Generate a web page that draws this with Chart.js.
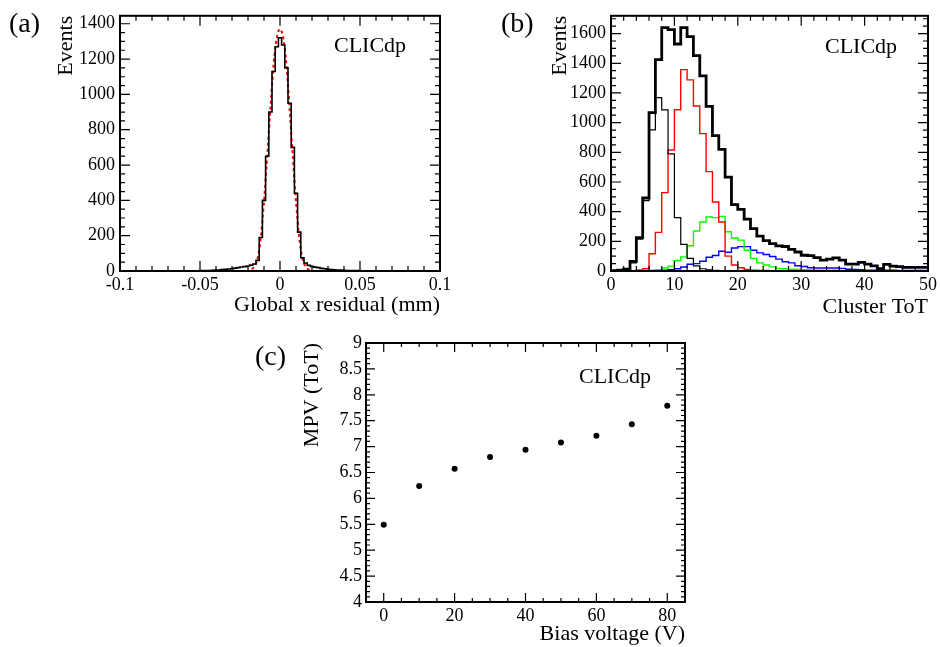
<!DOCTYPE html>
<html>
<head>
<title>CLICdp residual, cluster ToT and MPV</title>
<script src="https://cdn.jsdelivr.net/npm/chart.js"></script>
<style>
  body { margin: 0; background: #fff; }
  #page { position: relative; width: 940px; height: 647px; overflow: hidden; }
  canvas { position: absolute; }
</style>
</head>
<body>
<div id="page">
  <canvas id="chartA" width="460" height="320" style="left:0;top:0"></canvas>
  <canvas id="chartB" width="470" height="320" style="left:470px;top:0"></canvas>
  <canvas id="chartC" width="480" height="327" style="left:230px;top:320px"></canvas>
</div>
<script>
// (a) global x residual, bins 0.002 mm wide (centres)
const residCentres = [-0.05, -0.048, -0.046, -0.044, -0.042, -0.04, -0.038, -0.036, -0.034, -0.032,
  -0.03, -0.028, -0.026, -0.024, -0.022, -0.02, -0.018, -0.016, -0.014, -0.012,
  -0.01, -0.008, -0.006, -0.004, -0.002, 0, 0.002, 0.004, 0.006, 0.008,
  0.01, 0.012, 0.014, 0.016, 0.018, 0.02, 0.022, 0.024, 0.026, 0.028,
  0.03, 0.032, 0.034, 0.036, 0.038, 0.04, 0.042, 0.044, 0.046, 0.048, 0.05];
const residCounts = [2, 2, 3, 3, 4, 5, 6, 8, 10, 11,
  13, 16, 19, 23, 25, 28, 33, 40, 60, 190,
  400, 650, 900, 1130, 1270, 1320, 1280, 1150, 950, 700,
  440, 220, 75, 45, 32, 26, 22, 19, 15, 13,
  10, 8, 7, 6, 5, 4, 3, 3, 2, 2, 2];
const fitX = [-0.1, -0.03, -0.022, -0.02, -0.018, -0.016, -0.014, -0.012, -0.01, -0.008, -0.006, -0.004, -0.002, 0,
  0.002, 0.004, 0.006, 0.008, 0.01, 0.012, 0.014, 0.016, 0.018, 0.02, 0.022, 0.03, 0.1];
const fitY = [0, 0, 0, 2, 8, 25, 70, 190, 395, 650, 920, 1170, 1320, 1370,
  1320, 1170, 920, 650, 395, 190, 70, 25, 8, 2, 0, 0, 0];

// (b) cluster ToT, unit bins starting at these low edges
const totLow = [0, 1, 2, 3, 4, 5, 6, 7, 8, 9, 10, 11, 12, 13, 14, 15, 16, 17, 18, 19,
  20, 21, 22, 23, 24, 25, 26, 27, 28, 29, 30, 31, 32, 33, 34, 35, 36, 37, 38, 39,
  40, 41, 42, 43, 44, 45, 46, 47, 48, 49];
const totAll = [3, 5, 12, 65, 225, 492, 1068, 1425, 1640, 1627, 1530, 1640, 1580, 1452, 1315, 1110, 913, 820, 633, 447,
  415, 350, 285, 235, 205, 185, 170, 165, 146, 128, 106, 104, 90, 73, 80, 88, 73, 46, 46, 58,
  46, 35, 15, 44, 33, 30, 24, 24, 24, 24];
const totSize1 = [2, 4, 10, 55, 215, 474, 951, 1168, 1086, 790, 360, 180, 85, 35, 15, 8, 5, 3, 2, 1,
  1, 1, 0, 0, 0, 0, 0, 0, 0, 0, 0, 0, 0, 0, 0, 0, 0, 0, 0, 0,
  0, 0, 0, 0, 0, 0, 0, 0, 0, 0];
const totSize2 = [0, 0, 1, 2, 5, 16, 116, 260, 528, 816, 1087, 1357, 1288, 1112, 926, 670, 465, 330, 100, 40,
  22, 10, 6, 4, 3, 2, 1, 1, 0, 0, 0, 0, 0, 0, 0, 0, 0, 0, 0, 0,
  0, 0, 0, 0, 0, 0, 0, 0, 0, 0];
const totSize3 = [0, 0, 0, 0, 0, 1, 2, 3, 20, 33, 71, 95, 170, 270, 330, 364, 360, 368, 265, 222,
  208, 140, 85, 55, 40, 28, 18, 15, 12, 10, 9, 7, 6, 6, 5, 5, 4, 2, 2, 2,
  1, 1, 1, 1, 1, 1, 1, 1, 1, 1];
const totSize4 = [2, 2, 2, 2, 3, 3, 4, 5, 6, 8, 15, 27, 45, 50, 66, 93, 104, 133, 126, 155,
  164, 164, 140, 122, 111, 98, 80, 62, 55, 35, 30, 22, 20, 20, 20, 20, 18, 12, 10, 8,
  6, 6, 5, 5, 5, 4, 4, 4, 4, 4];

// (c) MPV vs bias voltage
const biasV = [0, 10, 20, 30, 40, 50, 60, 70, 80];
const mpv = [5.49, 6.24, 6.57, 6.80, 6.94, 7.08, 7.21, 7.43, 7.79];

const FONT = "'Liberation Serif', 'Times New Roman', serif";

function histPoints(lows, width, counts) {
  const pts = lows.map((lo, i) => ({x: lo, y: counts[i]}));
  pts.push({x: lows[lows.length - 1] + width, y: counts[counts.length - 1]});
  return pts;
}

// ROOT-like frame: inward major/minor ticks on all four sides, plus labels
const rootFrame = {
  id: 'rootFrame',
  afterDatasetsDraw(chart, args, o) {
    const {ctx, chartArea: a, scales: {x, y}} = chart;
    ctx.save();
    ctx.strokeStyle = '#000';
    const minors = (s, step) => {
      const out = [];
      for (let k = Math.ceil(s.min / step - 1e-9); k * step <= s.max + 1e-9; k++) out.push(k * step);
      return out;
    };
    const xTick = (v, len) => {
      const p = x.getPixelForValue(v);
      ctx.moveTo(p, a.bottom); ctx.lineTo(p, a.bottom - len);
      ctx.moveTo(p, a.top); ctx.lineTo(p, a.top + len);
    };
    const yTick = (v, len) => {
      const p = y.getPixelForValue(v);
      ctx.moveTo(a.left, p); ctx.lineTo(a.left + len, p);
      ctx.moveTo(a.right, p); ctx.lineTo(a.right - len, p);
    };
    ctx.lineWidth = 1.2;
    ctx.beginPath();
    minors(x, o.xMinor).forEach(v => xTick(v, o.minorLen));
    minors(y, o.yMinor).forEach(v => yTick(v, o.minorLen));
    x.ticks.forEach(t => xTick(t.value, o.majorLen));
    y.ticks.forEach(t => yTick(t.value, o.majorLen));
    ctx.stroke();
    ctx.lineWidth = 2;
    ctx.strokeRect(a.left, a.top, a.right - a.left, a.bottom - a.top);
    ctx.fillStyle = '#000';
    ctx.textBaseline = 'alphabetic';
    ctx.textAlign = 'left';
    (o.texts || []).forEach(t => {
      ctx.font = t.size + 'px ' + FONT;
      ctx.fillText(t.text, t.x, t.y);
    });
    ctx.restore();
  }
};

function axis(cfg) {
  return {
    type: 'linear',
    min: cfg.min, max: cfg.max,
    grid: {display: false, drawTicks: false},
    border: {display: false},
    afterBuildTicks: s => { s.ticks = cfg.ticks.map(v => ({value: v})); },
    afterFit: s => { if (cfg.width !== undefined) s.width = cfg.width; if (cfg.height !== undefined) s.height = cfg.height; },
    ticks: {
      autoSkip: false, maxRotation: 0, color: '#000', padding: cfg.pad,
      font: {family: FONT, size: 18},
      callback: v => String(v)
    },
    title: {
      display: true, text: cfg.title, align: 'end', color: '#000',
      font: {family: FONT, size: 22},
      padding: cfg.titlePad
    }
  };
}

const common = {
  responsive: false,
  animation: false,
  plugins: {legend: {display: false}, tooltip: {enabled: false}},
  elements: {point: {radius: 0}}
};

// (a)
new Chart(document.getElementById('chartA'), {
  type: 'line',
  data: {
    datasets: [{
      data: histPoints(residCentres.map(c => c - 0.001), 0.002, residCounts),
      stepped: 'before', borderColor: '#000', borderWidth: 1.6, fill: false
    }, {
      data: fitX.map((v, i) => ({x: v, y: fitY[i]})),
      borderColor: '#ff0000', borderWidth: 2, borderDash: [3, 3],
      cubicInterpolationMode: 'monotone', fill: false
    }]
  },
  options: {
    ...common,
    layout: {padding: {top: 12, right: 20, left: 0, bottom: 0}},
    scales: {
      x: axis({min: -0.1, max: 0.1, ticks: [-0.1, -0.05, 0, 0.05, 0.1], height: 49, pad: 3,
        title: 'Global x residual (mm)', titlePad: {top: 0, bottom: 2}}),
      y: axis({min: 0, max: 1445, ticks: [0, 200, 400, 600, 800, 1000, 1200, 1400], width: 120, pad: 5,
        title: 'Events', titlePad: {top: 53, bottom: 0}})
    },
    plugins: {
      ...common.plugins,
      rootFrame: {xMinor: 0.01, yMinor: 50, majorLen: 10, minorLen: 5,
        texts: [{text: '(a)', x: 9, y: 32, size: 28}, {text: 'CLICdp', x: 334, y: 52, size: 22}]}
    }
  },
  plugins: [rootFrame]
});

// (b)
new Chart(document.getElementById('chartB'), {
  type: 'line',
  data: {
    datasets: [
      {data: histPoints(totLow, 1, totAll), stepped: 'before', borderColor: '#000', borderWidth: 2.8, fill: false},
      {data: histPoints(totLow, 1, totSize1), stepped: 'before', borderColor: '#000', borderWidth: 1.2, fill: false},
      {data: histPoints(totLow, 1, totSize2), stepped: 'before', borderColor: '#ff0000', borderWidth: 1.4, fill: false},
      {data: histPoints(totLow, 1, totSize3), stepped: 'before', borderColor: '#00ff00', borderWidth: 1.4, fill: false},
      {data: histPoints(totLow, 1, totSize4), stepped: 'before', borderColor: '#0000ff', borderWidth: 1.4, fill: false}
    ]
  },
  options: {
    ...common,
    layout: {padding: {top: 12, right: 9, left: 0, bottom: 0}},
    scales: {
      x: axis({min: 0, max: 50, ticks: [0, 10, 20, 30, 40, 50], height: 49, pad: 3,
        title: 'Cluster ToT', titlePad: {top: 0, bottom: 0}}),
      y: axis({min: 0, max: 1720, ticks: [0, 200, 400, 600, 800, 1000, 1200, 1400, 1600], width: 141, pad: 5,
        title: 'Events', titlePad: {top: 77, bottom: 0}})
    },
    plugins: {
      ...common.plugins,
      rootFrame: {xMinor: 2, yMinor: 50, majorLen: 10, minorLen: 5,
        texts: [{text: '(b)', x: 31, y: 32, size: 28}, {text: 'CLICdp', x: 355, y: 53, size: 22}]}
    }
  },
  plugins: [rootFrame]
});

// (c)
new Chart(document.getElementById('chartC'), {
  type: 'scatter',
  data: {
    datasets: [{
      data: biasV.map((v, i) => ({x: v, y: mpv[i]})),
      pointRadius: 3, pointBackgroundColor: '#000', pointBorderColor: '#000', pointBorderWidth: 0
    }]
  },
  options: {
    ...common,
    elements: {point: {radius: 3}},
    layout: {padding: {top: 23, right: 25, left: 0, bottom: 0}},
    scales: {
      x: axis({min: -5, max: 85, ticks: [0, 20, 40, 60, 80], height: 45, pad: 3,
        title: 'Bias voltage (V)', titlePad: {top: 0, bottom: 0}}),
      y: axis({min: 4, max: 9, ticks: [4, 4.5, 5, 5.5, 6, 6.5, 7, 7.5, 8, 8.5, 9], width: 136, pad: 4,
        title: 'MPV (ToT)', titlePad: {top: 69, bottom: 0}})
    },
    plugins: {
      ...common.plugins,
      rootFrame: {xMinor: 5, yMinor: 0.1, majorLen: 9, minorLen: 4,
        texts: [{text: '(c)', x: 25, y: 45, size: 28}, {text: 'CLICdp', x: 349, y: 63, size: 22}]}
    }
  },
  plugins: [rootFrame]
});
</script>
</body>
</html>
